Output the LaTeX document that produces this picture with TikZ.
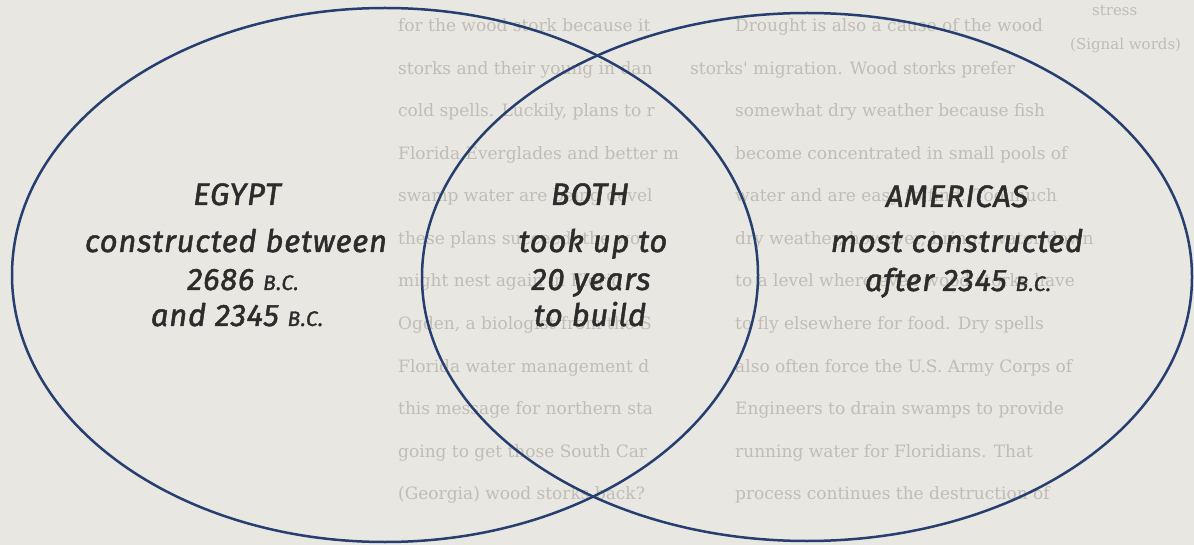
\documentclass[tikz,border=0pt]{standalone}
\usepackage{fontspec}
\setmainfont{Fira Sans}
\newfontfamily\handfont[LetterSpace=2.5, ItalicFeatures={FakeBold=1.6}]{Fira Sans}
\newfontfamily\bookfont{DejaVu Serif}
\definecolor{paper}{RGB}{233,231,225}
\definecolor{faint}{RGB}{192,189,182}
\definecolor{ink}{RGB}{44,44,44}
\definecolor{vennblue}{RGB}{38,62,112}
\newcommand{\bc}{{\fontsize{21pt}{21pt}\selectfont B.C.}}
\tikzset{
  venn/.style={draw=vennblue, line width=2.5pt},
  hand/.style={text=ink, inner sep=0pt, anchor=base, font=\handfont\fontsize{31pt}{40pt}\selectfont\itshape},
  bgtext/.style={text=faint, inner sep=0pt, anchor=base west, font=\bookfont\fontsize{17pt}{20pt}\selectfont},
  notetext/.style={text=faint, inner sep=0pt, anchor=base west, font=\bookfont\fontsize{15pt}{18pt}\selectfont},
}
\begin{document}
\begin{tikzpicture}[x=1pt,y=-1pt]
\fill[paper] (0,0) rectangle (1194,545);
\useasboundingbox (0,0) rectangle (1194,545);
% faded page text behind the diagram
\foreach \t [count=\i from 0] in {
  for the wood stork because it,
  storks and their young in dan,
  {cold spells. Luckily, plans to r},
  Florida Everglades and better m,
  swamp water are being devel,
  {these plans succeed, the wo},
  might nest again in Florid,
  {Ogden, a biologist from the S},
  Florida water management d,
  this message for northern sta,
  going to get those South Car,
  (Georgia) wood storks back?}
  \node[bgtext] (L\i) at (398,{32+42.5*\i}) {\t};
\foreach \t [count=\i from 0] in {
  Drought is also a cause of the wood,
  {storks' migration. Wood storks prefer},
  somewhat dry weather because fish,
  become concentrated in small pools of,
  {water and are easy to find. Too much},
  {dry weather, however, brings water down},
  to a level where even wood storks have,
  {to fly elsewhere for food. Dry spells},
  also often force the U.S. Army Corps of,
  Engineers to drain swamps to provide,
  {running water for Floridians. That},
  process continues the destruction of}
  \node[bgtext] (R\i) at ({\i==1 ? 690 : 735},{32+42.5*\i}) {\t};
\node[notetext] (stress) at (1092,16) {stress};
\node[notetext] (signal) at (1070,50) {(Signal words)};
% Venn ellipses
\draw[venn] (385,275) ellipse [x radius=373, y radius=267];
\draw[venn] (807,277) ellipse [x radius=385, y radius=264];
% Egypt
\node[hand] (egypt) at (237,205) {EGYPT};
\node[hand] (egypt1) at (236,252) {constructed between};
\node[hand] (egypt2) at (243,290) {2686 \bc};
\node[hand] (egypt3) at (237,326) {and 2345 \bc};
% Both
\node[hand] (both) at (590,205) {BOTH};
\node[hand] (both1) at (593,252) {took up to};
\node[hand] (both2) at (591,290) {20 years};
\node[hand] (both3) at (590,326) {to build};
% Americas
\node[hand] (am) at (957,207) {AMERICAS};
\node[hand] (am1) at (957,252) {most constructed};
\node[hand] (am2) at (958,291) {after 2345 \bc};
\end{tikzpicture}
\end{document}
